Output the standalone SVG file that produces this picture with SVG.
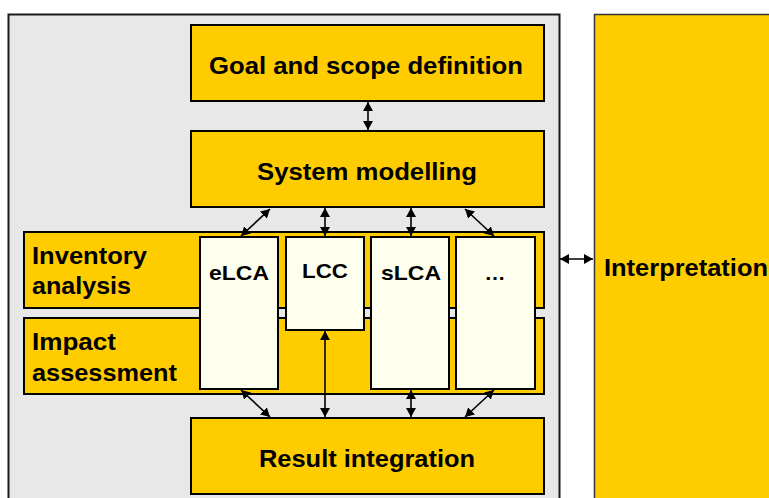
<svg xmlns="http://www.w3.org/2000/svg" width="769" height="498" viewBox="0 0 769 498">
  <style>
    .frame { fill: #E8E8E8; stroke: #1a1a1a; stroke-width: 2; }
    .phase { fill: #FFCC00; stroke: #000; stroke-width: 2; }
    .method { fill: #FFFFEE; stroke: #000; stroke-width: 2; }
    .lbl { font-family: "Liberation Sans", Arial, sans-serif; font-weight: bold; fill: #000; }
    .big { font-size: 23.5px; }
    .mid { font-size: 21px; }
    .link { stroke: #000; stroke-width: 1.6; fill: none; marker-start: url(#tip); marker-end: url(#tip); }
  </style>
  <defs>
    <marker id="tip" markerUnits="userSpaceOnUse" markerWidth="10" markerHeight="10" refX="9" refY="5" orient="auto-start-reverse">
      <path d="M0,0 L9,5 L0,10 z" fill="#000"/>
    </marker>
  </defs>

  <rect width="769" height="498" fill="#fff"/>

  <!-- grey frame holding the analysis phases -->
  <rect class="frame" x="8.5" y="14.5" width="551" height="500"/>

  <g id="interpretation">
    <rect x="594.5" y="14.5" width="200" height="500" fill="#FFCC00" stroke="#333" stroke-width="1.5"/>
    <text class="lbl big" x="604" y="276" textLength="164" lengthAdjust="spacingAndGlyphs">Interpretation</text>
  </g>

  <g id="goal">
    <rect class="phase" x="191" y="25" width="353" height="76"/>
    <text class="lbl big" x="366" y="74" text-anchor="middle" textLength="314" lengthAdjust="spacingAndGlyphs">Goal and scope definition</text>
  </g>

  <g id="system">
    <rect class="phase" x="191" y="131" width="353" height="76"/>
    <text class="lbl big" x="367" y="180" text-anchor="middle" textLength="220" lengthAdjust="spacingAndGlyphs">System modelling</text>
  </g>

  <g id="inventory">
    <rect class="phase" x="24" y="232" width="520" height="76"/>
    <text class="lbl big" x="32" y="264" textLength="115" lengthAdjust="spacingAndGlyphs">Inventory</text>
    <text class="lbl big" x="32" y="294" textLength="99" lengthAdjust="spacingAndGlyphs">analysis</text>
  </g>

  <g id="impact">
    <rect class="phase" x="24" y="318" width="520" height="76"/>
    <text class="lbl big" x="32" y="350" textLength="84" lengthAdjust="spacingAndGlyphs">Impact</text>
    <text class="lbl big" x="32" y="381" textLength="145" lengthAdjust="spacingAndGlyphs">assessment</text>
  </g>

  <g id="elca">
    <rect class="method" x="200" y="237" width="78" height="152"/>
    <text class="lbl mid" x="239" y="280" text-anchor="middle" textLength="60" lengthAdjust="spacingAndGlyphs">eLCA</text>
  </g>

  <g id="lcc">
    <rect class="method" x="286" y="237" width="78" height="93"/>
    <text class="lbl mid" x="325" y="278" text-anchor="middle" textLength="46" lengthAdjust="spacingAndGlyphs">LCC</text>
  </g>

  <g id="slca">
    <rect class="method" x="371" y="237" width="78" height="152"/>
    <text class="lbl mid" x="411" y="280" text-anchor="middle" textLength="60" lengthAdjust="spacingAndGlyphs">sLCA</text>
  </g>

  <g id="more">
    <rect class="method" x="456" y="237" width="79" height="152"/>
    <text class="lbl mid" x="495" y="280" text-anchor="middle">…</text>
  </g>

  <g id="result">
    <rect class="phase" x="191" y="418" width="353" height="76"/>
    <text class="lbl big" x="367" y="467" text-anchor="middle" textLength="216" lengthAdjust="spacingAndGlyphs">Result integration</text>
  </g>

  <g id="connectors">
    <line class="link" x1="368" y1="102" x2="368" y2="130"/>
    <line class="link" x1="270" y1="209" x2="241" y2="236"/>
    <line class="link" x1="325" y1="208" x2="325" y2="236"/>
    <line class="link" x1="411" y1="208" x2="411" y2="236"/>
    <line class="link" x1="465" y1="209" x2="494" y2="236"/>
    <line class="link" x1="241" y1="390" x2="270" y2="417"/>
    <line class="link" x1="325" y1="331" x2="325" y2="417"/>
    <line class="link" x1="411" y1="390" x2="411" y2="417"/>
    <line class="link" x1="494" y1="390" x2="465" y2="417"/>
    <line class="link" x1="560" y1="259" x2="593" y2="259"/>
  </g>
</svg>
